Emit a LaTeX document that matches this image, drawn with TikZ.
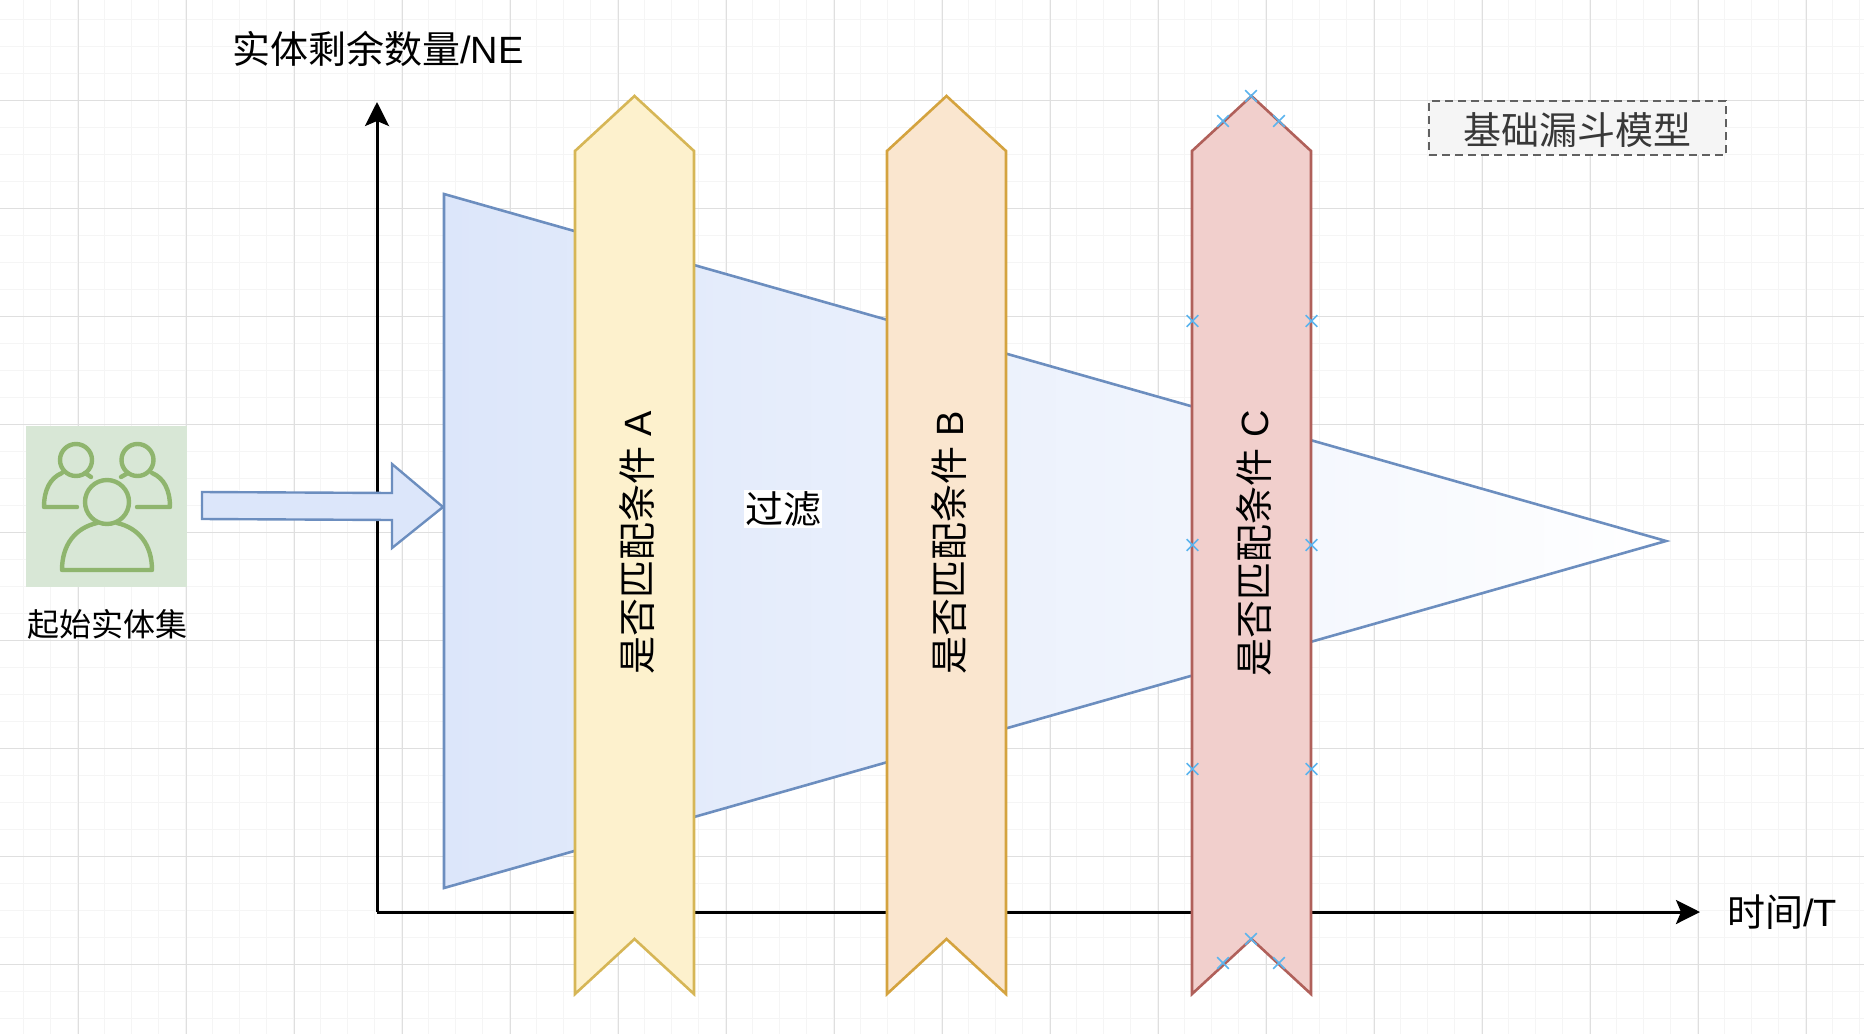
\documentclass[tikz,border=0pt]{standalone}
\usepackage{fontspec}
\setmainfont{Liberation Sans}
\newfontfamily\cjk{Noto Sans CJK SC}
\usetikzlibrary{arrows.meta}
\usetikzlibrary{shapes.misc}
\definecolor{gridminor}{HTML}{F5F5F5}
\definecolor{gridmajor}{HTML}{DFDFDF}
\definecolor{funnelfill}{HTML}{DCE6FA}
\definecolor{funneldraw}{HTML}{6C8EBF}
\definecolor{iconfill}{HTML}{D8E7D6}
\definecolor{icondraw}{HTML}{8FB56E}
\definecolor{yellowfill}{HTML}{FDF1CD}
\definecolor{yellowdraw}{HTML}{D6B656}
\definecolor{orangefill}{HTML}{FAE6CF}
\definecolor{orangedraw}{HTML}{D4A33F}
\definecolor{redfill}{HTML}{F1CFCC}
\definecolor{reddraw}{HTML}{B0605A}
\definecolor{markblue}{HTML}{5CB4EE}
\tikzset{
    bigtext/.style={font=\fontsize{38}{41}\selectfont},
    axis/.style={line width=3pt,-{Stealth[length=24pt,width=24pt,inset=5pt]}},
    hovermark/.style={cross out,draw=markblue,line width=1.6pt,minimum size=10pt,inner sep=0pt},
    usericon/.style={draw=icondraw,line width=4.4pt,line cap=round,line join=round}
}
\begin{document}
\begin{tikzpicture}[x=1pt,y=-1pt]
    \useasboundingbox (0,0) rectangle (1864,1034);
    % grid
    \foreach \g in {24,51,...,1864} {
        \draw[gridminor,line width=1pt] (\g-0.5,0) -- (\g-0.5,1034);
    }
    \foreach \g in {19,46,...,1034} {
        \draw[gridminor,line width=1pt] (0,\g) -- (1864,\g);
    }
    \foreach \g in {78.5,186.5,...,1864} {
        \draw[gridmajor,line width=1pt] (\g,0) -- (\g,1034);
    }
    \foreach \g in {100,208,...,1034} {
        \draw[gridmajor,line width=1pt] (0,\g) -- (1864,\g);
    }
    % axes
    \coordinate (O) at (377,912);
    \coordinate (Ytip) at (377,102);
    \coordinate (Xtip) at (1700,912);
    \draw[axis] (O) -- (Ytip);
    \draw[axis] (O) -- (Xtip);
    \node[bigtext] (ylabel) at (378,49) {{\cjk 实体剩余数量}/NE};
    \node[bigtext] (xlabel) at (1782,912) {{\cjk 时间}/T};
    % funnel
    \coordinate (F1) at (444,194);
    \coordinate (F2) at (444,888);
    \coordinate (F3) at (1666,541);
    \draw[funneldraw,line width=2.6pt,line join=miter,left color=funnelfill,right color=white]
        (F1) -- (F3) -- (F2) -- cycle;
    \node[fill=white,inner sep=1pt,bigtext] (filterlabel) at (783,509) {\cjk 过滤};
    % conditions
    \foreach \bx/\lbl/\fillc/\drawc/\tx in {575/A/yellowfill/yellowdraw/637,887/B/orangefill/orangedraw/949,1192/C/redfill/reddraw/1254} {
        \draw[fill=\fillc,draw=\drawc,line width=2.6pt,line join=miter]
            (\bx,151) -- (\bx+59.5,96) -- (\bx+119,151) -- (\bx+119,994)
            -- (\bx+59.5,939) -- (\bx,994) -- cycle;
        \node[bigtext,rotate=90] (cond\lbl) at (\tx,543) {{\cjk 是否匹配条件} \lbl};
    }
    % marks of C
    \foreach \mx/\my [count=\i] in {1251/96,1223/121,1279/121,1192.5/321,1311.5/321,1192.5/545,1311.5/545,1192.5/769,1311.5/769,1251/939,1223/963,1279/963} {
        \node[hovermark] (mark\i) at (\mx,\my) {};
    }
    % start set
    \node[fill=iconfill,minimum width=161pt,minimum height=161pt,inner sep=0pt] (startbox) at (106.5,506.5) {};
    \draw[usericon] (76,460) circle (16);
    \draw[usericon] (137.5,460) circle (16);
    \draw[usericon] (107,502) circle (22);
    \draw[usericon] (77,507) -- (44,507) .. controls (44,490) and (50,478) .. (62,473);
    \draw[usericon] (91,477) -- (85,473);
    \draw[usericon] (137,507) -- (170,507) .. controls (170,490) and (164,478) .. (152,473);
    \draw[usericon] (121,477) -- (128,473);
    \draw[usericon] (97,523) .. controls (75,528) and (62,545) .. (62,570) -- (152,570)
        .. controls (152,545) and (139,528) .. (117,523);
    \node[font=\fontsize{32}{36}\selectfont\cjk] (startlabel) at (107.5,624) {起始实体集};
    % input arrow
    \draw[funneldraw,fill=funnelfill,line width=2.4pt,line join=miter]
        (202,492) -- (392,493) -- (392,464) -- (443,507) -- (392,548)
        -- (392,520) -- (202,519) -- cycle;
    % title
    \node[draw=black!62,dashed,dash pattern=on 8pt off 5pt,line width=2.6pt,fill=black!4,text=black!78,minimum width=297pt,minimum height=54pt,inner sep=0pt,bigtext] (title) at (1577.5,128) {\cjk\raisebox{-16.5pt}[0pt][0pt]{基础漏斗模型}};
\end{tikzpicture}
\end{document}
